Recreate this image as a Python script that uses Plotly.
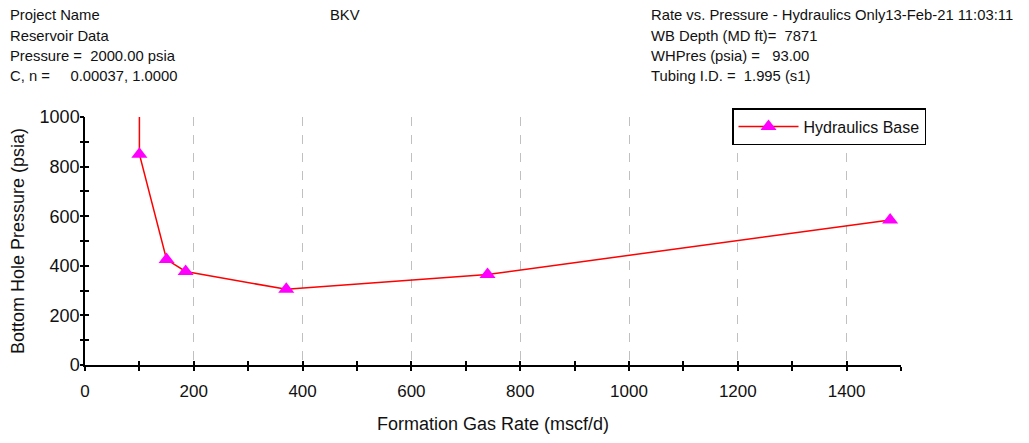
import plotly.graph_objects as go

# Data
gas_rate = [100, 100, 150, 185, 370, 740, 1480]
bhp = [1100, 850, 425, 377, 305, 365, 585]
series_name = "Hydraulics Base"

left_header = ["Project Name", "Reservoir Data", "Pressure =  2000.00 psia", "C, n =     0.00037, 1.0000"]
mid_header = ["BKV"]
right_header = ["Rate vs. Pressure - Hydraulics Only13-Feb-21 11:03:11", "WB Depth (MD ft)=  7871",
                "WHPres (psia) =   93.00", "Tubing I.D. =  1.995 (s1)"]

W, H = 1029, 443
L, R, T, B = 85, 901, 117, 367

fig = go.Figure()
fig.add_trace(go.Scatter(
    x=gas_rate, y=bhp, mode="lines+markers", name=series_name,
    line=dict(color="#ff0000", width=1.5),
    marker=dict(symbol="triangle-up", size=14, color="#ff00ff", line=dict(width=0)),
    cliponaxis=True,
))

axfont = "Liberation Sans, Arial, sans-serif"
hdrfont = "Liberation Sans, Arial, sans-serif"

fig.update_layout(
    width=W, height=H,
    margin=dict(l=L, r=W - R, t=T, b=H - B, pad=0),
    paper_bgcolor="white", plot_bgcolor="white",
    showlegend=True,
    legend=dict(x=(926 - L) / (R - L), y=(B - 108) / (B - T), xanchor="right", yanchor="top",
                bordercolor="black", borderwidth=1.5, bgcolor="white",
                font=dict(family=axfont, size=16, color="#111"),
                tracegroupgap=0, itemwidth=60),
    xaxis=dict(range=[0, 1500], dtick=200, tick0=0, showgrid=True, griddash="dash",
               gridcolor="#c0c0c0", gridwidth=1, zeroline=False,
               showline=True, linecolor="black", linewidth=1.5,
               ticks="outside", ticklen=4, tickwidth=1.5, tickcolor="black",
               minor=dict(dtick=100, ticks="outside", ticklen=4, tickwidth=1.5, tickcolor="black", showgrid=False),
               tickfont=dict(family=axfont, size=17, color="#111"),
               ticklabelstandoff=6,
               title=dict(text="Formation Gas Rate (mscf/d)", font=dict(family=axfont, size=18, color="#111"), standoff=17)),
    yaxis=dict(range=[0, 1000], dtick=200, tick0=0, showgrid=False, zeroline=False,
               showline=True, linecolor="black", linewidth=1.5,
               ticks="inside", ticklen=4, tickwidth=1.5, tickcolor="black",
               minor=dict(dtick=100, ticks="inside", ticklen=4, tickwidth=1.5, tickcolor="black", showgrid=False),
               tickfont=dict(family=axfont, size=18, color="#111"),
               ticklabelstandoff=0,
               title=dict(text="Bottom Hole Pressure (psia)", font=dict(family=axfont, size=18, color="#111"), standoff=10)),
    xaxis2=dict(range=[0, 1500], overlaying="x", anchor="y", showgrid=False, zeroline=False, showline=False,
                showticklabels=False, ticks="inside", ticklen=4, tickwidth=1.5, tickcolor="black", dtick=100, tick0=0),
    yaxis2=dict(range=[0, 1000], overlaying="y", anchor="x", showgrid=False, zeroline=False, showline=False,
                showticklabels=False, ticks="outside", ticklen=4, tickwidth=1.5, tickcolor="black", dtick=100, tick0=0),
)

# invisible trace to activate overlay axes
fig.add_trace(go.Scatter(x=[None], y=[None], xaxis="x2", yaxis="y2", showlegend=False, hoverinfo="skip"))

rows_y = [14, 35, 56, 76]
def add_block(lines, px):
    for i, t in enumerate(lines):
        fig.add_annotation(
            text=t.replace(" ", "\u00a0"), xref="paper", yref="paper",
            x=(px - L) / (R - L), y=(B - rows_y[i]) / (B - T),
            xanchor="left", yanchor="middle", showarrow=False,
            font=dict(family=hdrfont, size=14.8, color="#111"),
        )

add_block(left_header, 8)
add_block(mid_header, 328)
add_block(right_header, 649)

fig.write_html("out.html")
